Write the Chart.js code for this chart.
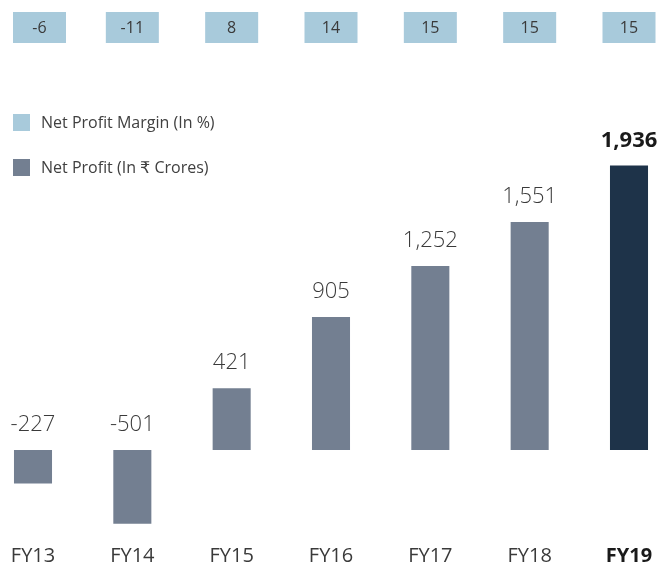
<!DOCTYPE html>
<html>
<head>
<meta charset="utf-8">
<script src="https://cdn.jsdelivr.net/npm/chart.js@4/dist/chart.umd.min.js"></script>
<style>
  html, body { margin: 0; padding: 0; background: #fff; }
  #wrap { width: 660px; height: 567px; position: relative; }
</style>
</head>
<body>
<div id="wrap"><canvas id="profitChart"></canvas></div>
<script>
// chart data
const years = ['FY13', 'FY14', 'FY15', 'FY16', 'FY17', 'FY18', 'FY19'];
const netProfit = [-227, -501, 421, 905, 1252, 1551, 1936];
const profitMargin = [-6, -11, 8, 14, 15, 15, 15];
const legendLabels = ['Net Profit Margin (In %)', 'Net Profit (In \u20B9 Crores)'];

const FONT = "'Open Sans', 'DejaVu Sans', sans-serif";
const BAR_COLOR = '#737f91';
const HIGHLIGHT_COLOR = '#1e3349';
const MARGIN_COLOR = '#a8cadb';
const TEXT_COLOR = '#3a3a3a';

const barColors = years.map((y, i) => i === years.length - 1 ? HIGHLIGHT_COLOR : BAR_COLOR);

// Draws margin boxes, legend, value labels and year labels
const overlayPlugin = {
  id: 'overlay',
  afterDatasetsDraw(chart) {
    const ctx = chart.ctx;
    const xs = chart.scales.x;
    const meta = chart.getDatasetMeta(0);
    const zeroY = chart.scales.y.getPixelForValue(0);
    const last = years.length - 1;

    ctx.save();
    ctx.textAlign = 'center';
    ctx.textBaseline = 'middle';

    // margin boxes at the top (kept inside the left edge)
    profitMargin.forEach((m, i) => {
      const left = Math.max(xs.getPixelForValue(i) - 26.5, 13);
      ctx.fillStyle = MARGIN_COLOR;
      ctx.fillRect(left, 12, 53, 31);
      ctx.fillStyle = TEXT_COLOR;
      ctx.font = `16px ${FONT}`;
      ctx.fillText(String(m), left + 26.5, 28);
    });

    // legend
    const legendColors = [MARGIN_COLOR, BAR_COLOR];
    legendLabels.forEach((lbl, i) => {
      const y = 114 + i * 45;
      ctx.fillStyle = legendColors[i];
      ctx.fillRect(13, y, 17, 17);
      ctx.fillStyle = '#404040';
      ctx.font = `16px ${FONT}`;
      ctx.textAlign = 'left';
      ctx.fillText(lbl, 41, y + 9);
    });

    // value labels above bars (negatives sit above zero line)
    ctx.textAlign = 'center';
    meta.data.forEach((bar, i) => {
      const v = netProfit[i];
      const top = v >= 0 ? bar.y : zeroY;
      ctx.fillStyle = i === last ? '#1a1a1a' : TEXT_COLOR;
      ctx.font = (i === last ? 'bold ' : '300 ') + `22px ${FONT}`;
      ctx.fillText(v.toLocaleString('en-US'), bar.x, top - 25);
    });

    // year labels at the bottom
    years.forEach((yr, i) => {
      const cx = xs.getPixelForValue(i);
      ctx.fillStyle = i === last ? '#1a1a1a' : TEXT_COLOR;
      ctx.font = (i === last ? 'bold ' : '') + `20px ${FONT}`;
      ctx.fillText(yr, cx, 556);
    });
    ctx.restore();
  }
};

new Chart(document.getElementById('profitChart'), {
  type: 'bar',
  data: {
    labels: years,
    datasets: [{
      data: netProfit,
      backgroundColor: barColors,
      borderWidth: 0,
      categoryPercentage: 1,
      barPercentage: 0.383,
      clip: false
    }]
  },
  options: {
    responsive: true,
    maintainAspectRatio: false,
    animation: false,
    layout: { padding: { left: 33, right: 31, top: 100, bottom: 27 } },
    plugins: {
      legend: { display: false },
      tooltip: { enabled: false }
    },
    scales: {
      x: { display: false, offset: false },
      y: { display: false, min: -612, max: 2381 }
    }
  },
  plugins: [overlayPlugin]
});
</script>
</body>
</html>
